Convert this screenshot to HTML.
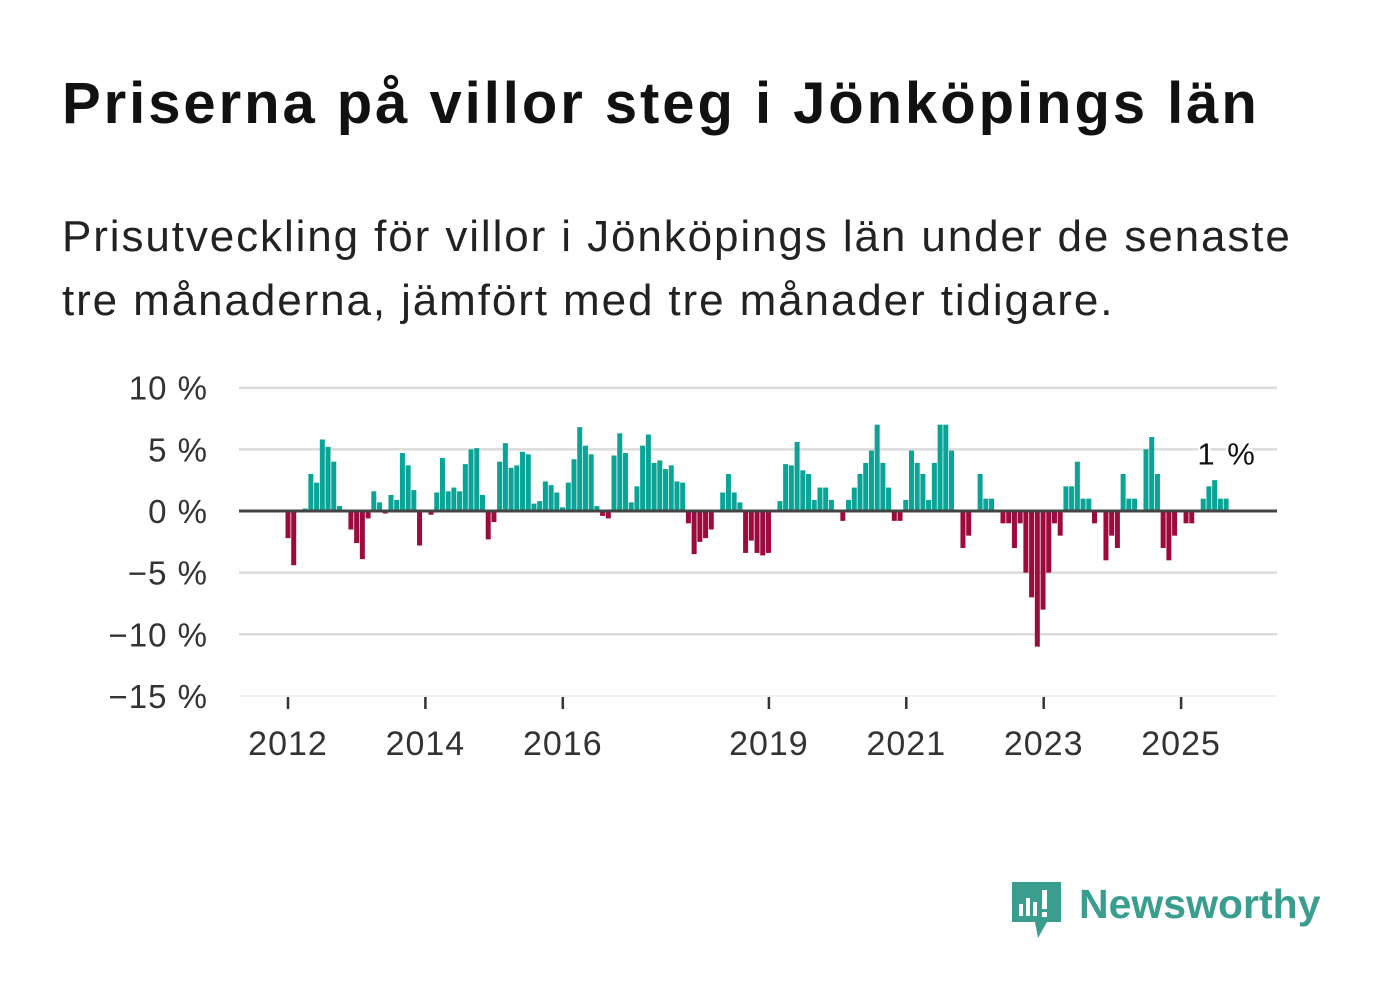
<!DOCTYPE html>
<html><head><meta charset="utf-8"><style>
body{margin:0;background:#fff;width:1382px;height:999px;overflow:hidden;font-family:"Liberation Sans",sans-serif;}
h1{position:absolute;left:62px;top:70px;margin:0;font-size:58px;font-weight:bold;color:#111;letter-spacing:2.95px;white-space:nowrap}
p{position:absolute;left:62px;top:205px;margin:0;font-size:44px;line-height:64px;color:#222;letter-spacing:1.9px;white-space:nowrap}
svg{position:absolute;left:0;top:0}
</style></head><body>
<h1>Priserna på villor steg i Jönköpings län</h1>
<p>Prisutveckling för villor i Jönköpings län under de senaste<br>tre månaderna, jämfört med tre månader tidigare.</p>
<svg id="chart" width="1382" height="999"></svg>
<script>
const values=[-2.2,-4.4,0,0.2,3,2.3,5.8,5.2,4,0.4,0,-1.5,-2.6,-3.9,-0.6,1.6,0.7,-0.2,1.3,0.9,4.7,3.7,1.7,-2.8,
0,-0.3,1.5,4.3,1.6,1.9,1.6,3.8,5,5.1,1.3,-2.3,-0.9,4,5.5,3.5,3.7,4.8,4.6,0.6,0.8,2.4,2.1,1.5,0.3,2.3,4.2,6.8,5.3,4.6,0.4,-0.4,-0.6,
4.5,6.3,4.7,0.7,2,5.3,6.2,3.9,4.1,3.4,3.7,2.4,2.3,-1,-3.5,-2.5,-2.2,-1.5,
0,1.5,3,1.5,0.7,-3.4,-2.4,-3.4,-3.6,-3.4,
0.1,0.8,3.8,3.7,5.6,3.3,3,0.9,1.9,1.9,0.9,0,-0.8,0.9,1.9,3,3.9,4.9,7,3.9,1.9,-0.8,-0.8,0.9,4.9,3.9,3,0.9,3.9,7,7,4.9,0,
-3,-2,0,3,1,1,0,-1,-1,-3,-1,-5,-7,-11,-8,-5,-1,-2,2,2,4,1,1,-1,0,-4,-2,-3,3,1,1,0,5,6,3,-3,-4,-2,0,-1,-1,0,1,2,2.5,1,1];
const yTicks=[10,5,0,-5,-10,-15];
const yLabels=["10 %","5 %","0 %","\u22125 %","\u221210 %","\u221215 %"];
const xYears=[2012,2014,2016,2019,2021,2023,2025];
const startYear=2012;
const lastLabel="1 %";
const NS="http://www.w3.org/2000/svg";
const svg=document.getElementById('chart');
const y=v=>511-v*12.33;
const x=i=>288+i*5.72;
const xYear=yr=>288+(yr-startYear)*68.7;
function mk(t,a){const e=document.createElementNS(NS,t);for(const k in a)e.setAttribute(k,a[k]);svg.appendChild(e);return e;}
yTicks.forEach((t,i)=>{
 if(t!==0){const l=mk('line',{x1:239,x2:1277,y1:y(t),y2:y(t),stroke:t===-15?'#e6e6e6':'#dcdcdc','stroke-width':t===-15?1:2.5});
 
 }
 const tx=mk('text',{x:208,y:y(t)+12,'text-anchor':'end','font-size':33,fill:'#333','letter-spacing':1});tx.textContent=yLabels[i];
 
 
});
values.forEach((v,i)=>{
 const r=mk('rect',{x:x(i)-2.5,width:5,y:v>=0?y(v):y(0),height:Math.abs(v)*12.33,fill:v>=0?'#0aa496':'#9c0a3e'});
 
 
});
const zl=mk('line',{x1:239,x2:1277,y1:y(0),y2:y(0),stroke:'#444','stroke-width':3});


xYears.forEach(yr=>{
 const t=mk('line',{x1:xYear(yr),x2:xYear(yr),y1:697,y2:709,stroke:'#333','stroke-width':2.5});
 
 
 const tx=mk('text',{x:xYear(yr),y:755,'text-anchor':'middle','font-size':34,fill:'#333','letter-spacing':1});tx.textContent=yr;
 
 
});
const li=values.length-1;
const lb=mk('text',{x:x(li)+1,y:y(values[li])-34,'text-anchor':'middle','font-size':31,fill:'#111',stroke:'#fff','stroke-width':5,'paint-order':'stroke','letter-spacing':2});
lb.textContent=lastLabel;


</script>
<svg width="1382" height="999" style="pointer-events:none">
 <path d="M1012 882h49v40h-14l-9 16-3-16h-23z" fill="#3a9e8f"/>
 <rect x="1019" y="904" width="4" height="12" fill="#fff"/><rect x="1026" y="898" width="4" height="18" fill="#fff"/><rect x="1033" y="902" width="4" height="14" fill="#fff"/><rect x="1042" y="890" width="5" height="19" fill="#fff"/><rect x="1042" y="912" width="5" height="5" fill="#fff"/>
 <text x="1079" y="918" font-size="41" font-weight="bold" fill="#3a9e8f" font-family="Liberation Sans">Newsworthy</text>
</svg>
</body></html>
